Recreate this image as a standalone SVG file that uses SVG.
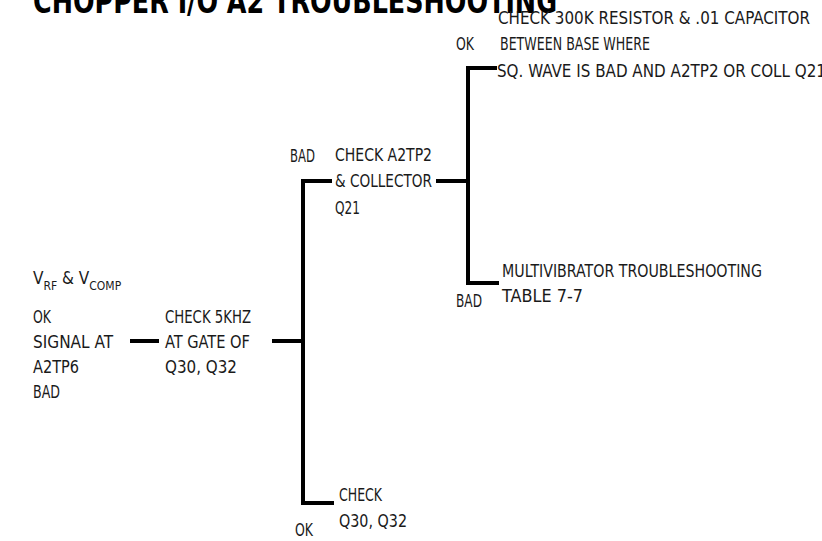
<svg xmlns="http://www.w3.org/2000/svg" width="822" height="541" viewBox="0 0 822 541">
<style>
  .t { font-family: "Liberation Sans Narrow", "DejaVu Sans Condensed", "Liberation Sans", sans-serif; font-size: 17px; fill: #1a1a1a; }
  .sub { font-size: 12px; }
  .title { font-family: "Liberation Sans Narrow", "DejaVu Sans Condensed", "Liberation Sans", sans-serif; font-size: 34px; font-weight: bold; fill: #000; }
  .ln { stroke: #000; stroke-width: 4; fill: none; stroke-linecap: square; stroke-linejoin: miter; }
</style>
<rect width="822" height="541" fill="#fff"/>
<text class="title" x="33" y="13" textLength="524" lengthAdjust="spacingAndGlyphs">CHOPPER I/O A2 TROUBLESHOOTING</text>

<g id="connectors">
  <path class="ln" d="M132 341 H157"/>
  <path class="ln" d="M274 341 H303"/>
  <path class="ln" d="M330 181 H303 V503 H332"/>
  <path class="ln" d="M438 181 H468"/>
  <path class="ln" d="M495 68 H468 V283 H497"/>
</g>

<g id="start">
  <text class="t" x="33" y="284">V<tspan class="sub" dy="6">RF</tspan><tspan dy="-6"> &amp; V</tspan><tspan class="sub" dy="6">COMP</tspan></text>
  <text class="t" x="33" y="323" textLength="18" lengthAdjust="spacingAndGlyphs">OK</text>
  <text class="t" x="33" y="348" textLength="80" lengthAdjust="spacingAndGlyphs">SIGNAL AT</text>
  <text class="t" x="33" y="373" textLength="46" lengthAdjust="spacingAndGlyphs">A2TP6</text>
  <text class="t" x="33" y="398" textLength="27" lengthAdjust="spacingAndGlyphs">BAD</text>
</g>

<g id="check5khz">
  <text class="t" x="165" y="323" textLength="86" lengthAdjust="spacingAndGlyphs">CHECK 5KHZ</text>
  <text class="t" x="165" y="348" textLength="85" lengthAdjust="spacingAndGlyphs">AT GATE OF</text>
  <text class="t" x="165" y="373" textLength="72" lengthAdjust="spacingAndGlyphs">Q30, Q32</text>
</g>

<g id="checkA2TP2">
  <text class="t" x="290" y="162" textLength="25" lengthAdjust="spacingAndGlyphs">BAD</text>
  <text class="t" x="335" y="161" textLength="97" lengthAdjust="spacingAndGlyphs">CHECK A2TP2</text>
  <text class="t" x="335" y="187" textLength="97" lengthAdjust="spacingAndGlyphs">&amp; COLLECTOR</text>
  <text class="t" x="335" y="214" textLength="25" lengthAdjust="spacingAndGlyphs">Q21</text>
</g>

<g id="checkQ30">
  <text class="t" x="339" y="501" textLength="43" lengthAdjust="spacingAndGlyphs">CHECK</text>
  <text class="t" x="339" y="527" textLength="68" lengthAdjust="spacingAndGlyphs">Q30, Q32</text>
  <text class="t" x="295" y="536" textLength="18" lengthAdjust="spacingAndGlyphs">OK</text>
</g>

<g id="checkResistor">
  <text class="t" x="498" y="24" textLength="312" lengthAdjust="spacingAndGlyphs">CHECK 300K RESISTOR &amp; .01 CAPACITOR</text>
  <text class="t" x="456" y="50" textLength="18" lengthAdjust="spacingAndGlyphs">OK</text>
  <text class="t" x="500" y="50" textLength="150" lengthAdjust="spacingAndGlyphs">BETWEEN BASE WHERE</text>
  <text class="t" x="497" y="77" textLength="329" lengthAdjust="spacingAndGlyphs">SQ. WAVE IS BAD AND A2TP2 OR COLL Q21</text>
</g>

<g id="multivibrator">
  <text class="t" x="502" y="277" textLength="260" lengthAdjust="spacingAndGlyphs">MULTIVIBRATOR TROUBLESHOOTING</text>
  <text class="t" x="502" y="302" textLength="81" lengthAdjust="spacingAndGlyphs">TABLE 7-7</text>
  <text class="t" x="456" y="307" textLength="26" lengthAdjust="spacingAndGlyphs">BAD</text>
</g>
</svg>
